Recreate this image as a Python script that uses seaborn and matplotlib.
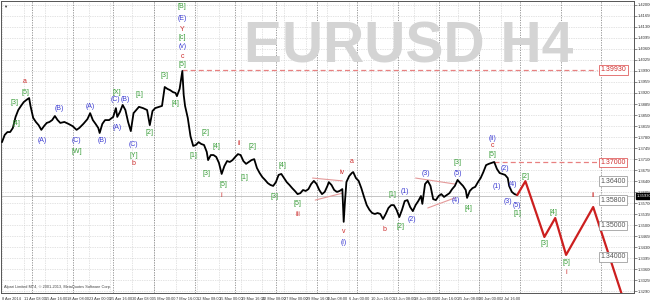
import matplotlib
matplotlib.use("Agg")
import matplotlib.pyplot as plt
import matplotlib.transforms as mtransforms
import seaborn as sns
import pandas as pd

# ---------------- data ----------------
bar_idx = [0, 2, 4, 6, 8, 10, 12, 14, 16, 18, 20, 21, 23, 25, 27, 29, 31, 33, 35, 37,
           39, 41, 43, 46, 49, 52, 55, 57, 60, 63, 65, 67, 69, 71, 72, 74, 76, 79, 82, 84,
           85, 87, 89, 91, 93, 95, 97, 99, 101, 104, 107, 109, 111, 113, 116, 118, 120, 122, 124, 126,
           128, 129, 131, 133, 134, 135, 137, 139, 141, 143, 145, 147, 149, 151, 152, 154, 156, 158, 160, 162,
           164, 166, 168, 170, 172, 174, 176, 178, 180, 182, 184, 186, 188, 190, 192, 194, 196, 198, 200, 202,
           204, 206, 208, 210, 212, 214, 216, 218, 220, 222, 224, 226, 228, 230, 232, 234, 236, 238, 240, 241,
           243, 245, 247, 249, 251, 252, 253, 254, 256, 258, 259, 261, 263, 265, 267, 269, 271, 273, 275, 277,
           279, 281, 283, 285, 287, 289, 291, 293, 295, 297, 299, 301, 303, 305, 307, 309, 310, 312, 314, 316,
           318, 320, 322, 324, 326, 328, 330, 332, 334, 336, 338, 340, 342, 343, 345, 347, 349, 351, 353, 355,
           357, 359, 361, 363, 365, 367, 369, 371, 373, 374, 376, 378, 380]
close = [1.3764, 1.3787, 1.3796, 1.3796, 1.3809, 1.3844, 1.3866, 1.3879, 1.3891, 1.3898, 1.3904, 1.3879, 1.3841, 1.3828, 1.3818, 1.3803, 1.3815, 1.3825, 1.3828, 1.3834,
         1.3847, 1.3834, 1.3825, 1.3828, 1.3822, 1.3815, 1.3803, 1.3809, 1.3822, 1.3837, 1.3856, 1.3834, 1.3822, 1.3809, 1.3793, 1.3822, 1.3834, 1.3834, 1.3844, 1.3872,
         1.3844, 1.3860, 1.3882, 1.3866, 1.3828, 1.3799, 1.3856, 1.3866, 1.3876, 1.3872, 1.3866, 1.3818, 1.3863, 1.3872, 1.3876, 1.3879, 1.3939, 1.3933, 1.3929, 1.3923,
         1.3920, 1.3910, 1.3933, 1.3990, 1.3914, 1.3879, 1.3841, 1.3783, 1.3752, 1.3755, 1.3764, 1.3758, 1.3755, 1.3733, 1.3707, 1.3723, 1.3723, 1.3717, 1.3698, 1.3663,
         1.3688, 1.3704, 1.3701, 1.3707, 1.3717, 1.3726, 1.3723, 1.3704, 1.3695, 1.3701, 1.3707, 1.3710, 1.3682, 1.3666, 1.3653, 1.3644, 1.3634, 1.3628, 1.3625, 1.3637,
         1.3660, 1.3663, 1.3650, 1.3637, 1.3628, 1.3618, 1.3609, 1.3599, 1.3602, 1.3612, 1.3609, 1.3615, 1.3631, 1.3641, 1.3631, 1.3612, 1.3599, 1.3606, 1.3625, 1.3637,
         1.3628, 1.3612, 1.3606, 1.3609, 1.3615, 1.3511, 1.3580, 1.3637, 1.3656, 1.3666, 1.3669, 1.3650, 1.3641, 1.3618, 1.3590, 1.3564, 1.3549, 1.3539, 1.3536, 1.3539,
         1.3536, 1.3520, 1.3536, 1.3555, 1.3564, 1.3564, 1.3549, 1.3526, 1.3549, 1.3577, 1.3580, 1.3558, 1.3545, 1.3564, 1.3577, 1.3593, 1.3568, 1.3631, 1.3641, 1.3625,
         1.3583, 1.3580, 1.3593, 1.3599, 1.3590, 1.3596, 1.3602, 1.3615, 1.3625, 1.3644, 1.3634, 1.3625, 1.3612, 1.3587, 1.3609, 1.3618, 1.3622, 1.3637, 1.3650, 1.3669,
         1.3691, 1.3695, 1.3698, 1.3701, 1.3679, 1.3666, 1.3663, 1.3660, 1.3650, 1.3625, 1.3606, 1.3599, 1.3596]

proj_idx = [380, 386, 400, 408, 416, 436, 457]
proj_price = [1.3596, 1.3640, 1.3463, 1.3523, 1.3406, 1.3558, 1.3282]

date_ticks = [0, 16, 32, 48, 64, 80, 96, 112, 128, 144, 160, 176, 192, 208, 224, 240,
              256, 272, 288, 304, 320, 336, 352, 368]
date_labels = ["8 Apr 2014", "11 Apr 08:00", "15 Apr 16:00", "18 Apr 08:00", "23 Apr 00:00",
               "25 Apr 16:00", "30 Apr 08:00", "5 May 00:00", "7 May 16:00", "12 May 08:00",
               "15 May 00:00", "19 May 16:00", "22 May 08:00", "27 May 00:00", "29 May 16:00",
               "3 Jun 08:00", "6 Jun 00:00", "10 Jun 16:00", "13 Jun 08:00", "18 Jun 00:00",
               "20 Jun 16:00", "25 Jun 08:00", "30 Jun 00:00", "2 Jul 16:00"]
week_sep = [22, 52, 82, 112, 142, 172, 202, 232, 262, 292, 322, 352, 382, 412, 442]
price_ticks = [1.3290 + 0.0035 * k for k in range(27)]

current_price = 1.3593
red_levels = [1.3993, 1.3700]
red_level_start = [133, 363]
gray_levels = [1.3640, 1.3580, 1.3500, 1.3400]

tri1_top = ([229, 251], [1.3650, 1.3641])
tri1_bot = ([231, 251], [1.3580, 1.3602])
tri2_top = ([305, 334], [1.3650, 1.3631])
tri2_bot = ([314, 334], [1.3555, 1.3587])

GREEN, BLUE, RED = "#3a9e3a", "#3c3cd2", "#cc2a2a"
wave_text = ["a", "[5]", "[3]", "[4]", "(A)", "(B)", "(C)", "[W]", "(A)", "(B)", "[X]", "(C)", "(B)", "(A)",
             "(C)", "[Y]", "b", "[1]", "[2]", "[3]", "[4]",
             "[B]", "(E)", "Y", "[c]", "(v)", "c", "[5]",
             "[2]", "[1]", "[3]", "[4]", "ii", "[5]", "i", "[1]", "[2]", "[3]", "[4]", "[5]", "iii",
             "iv", "a", "v", "(i)", "b", "[1]", "[2]", "(1)", "(2)", "(3)", "[3]", "(5)", "(4)", "[4]",
             "[5]", "c", "(ii)", "(1)", "(2)", "(4)", "(3)", "(5)", "[1]",
             "[2]", "[3]", "[4]", "[5]", "i", "ii"]
wave_color = ["r", "g", "g", "g", "b", "b", "b", "g", "b", "b", "g", "b", "b", "b",
              "b", "g", "r", "g", "g", "g", "g",
              "g", "b", "r", "g", "b", "r", "g",
              "g", "g", "g", "g", "r", "g", "r", "g", "g", "g", "g", "g", "r",
              "r", "r", "r", "b", "r", "g", "g", "b", "b", "b", "g", "b", "b", "g",
              "g", "r", "b", "b", "b", "b", "b", "b", "g",
              "g", "g", "g", "g", "r", "r"]
wave_idx = [17, 17, 9, 11, 30, 42, 55, 55, 65, 74, 85, 84, 91, 85,
            97, 97, 97, 101, 109, 120, 128,
            133, 133, 133, 133, 133, 133, 133,
            150, 141, 151, 158, 175, 163, 162, 179, 185, 201, 207, 218, 218,
            251, 258, 252, 252, 282, 288, 294, 297, 302, 313, 336, 336, 335, 344,
            362, 362, 362, 365, 371, 377, 373, 380, 380,
            386, 400, 407, 416, 416, 436]
wave_price = [1.3958, 1.3923, 1.3891, 1.3822, 1.3768, 1.3872, 1.3768, 1.3733, 1.3876, 1.3768, 1.3923, 1.3898, 1.3898, 1.3812,
              1.3758, 1.3723, 1.3695, 1.3914, 1.3796, 1.3974, 1.3888,
              1.4193, 1.4155, 1.4123, 1.4095, 1.4066, 1.4037, 1.4009,
              1.3793, 1.3720, 1.3666, 1.3749, 1.3761, 1.3631, 1.3596, 1.3653, 1.3749, 1.3590, 1.3691, 1.3568, 1.3533,
              1.3669, 1.3701, 1.3479, 1.3444, 1.3488, 1.3599, 1.3495, 1.3606, 1.3517, 1.3666, 1.3698, 1.3666, 1.3580, 1.3552,
              1.3726, 1.3752, 1.3774, 1.3622, 1.3679, 1.3631, 1.3577, 1.3564, 1.3536,
              1.3656, 1.3441, 1.3542, 1.3383, 1.3349, 1.3596]

# ---------------- plot ----------------
sns.set_style("white")
plt.rcParams["font.family"] = ["Liberation Sans", "DejaVu Sans"]

fig = plt.figure(figsize=(6.5, 3), dpi=100)
ax = fig.add_axes([1 / 650, 7 / 300, 633 / 650, 292 / 300])
ax.set_xlim(-0.74, 466.1)
ax.set_ylim(1.32851, 1.42120)

# grid
for t in date_ticks:
    ax.axvline(t, color="#c8c8c8", ls=(0, (1, 1.5)), lw=0.5, zorder=0)
for p in price_ticks:
    ax.axhline(p, color="#c8c8c8", ls=(0, (1, 1.5)), lw=0.5, zorder=0)
for w in week_sep:
    ax.axvline(w, color="#8a8a8a", ls=(0, (1.5, 1.5)), lw=0.6, zorder=0)

# watermark
ax.text(0.6445, 0.791, "EURUSD H4", transform=ax.transAxes, ha="center", va="baseline",
        fontsize=41, fontweight="bold", color="#d4d4d4", zorder=0)

# current price line
ax.axhline(current_price, color="#c4c4c4", lw=0.7, zorder=1)

# price series
df = pd.DataFrame({"bar": bar_idx, "price": close})
sns.lineplot(data=df, x="bar", y="price", ax=ax, color="black", lw=1.3, zorder=3)

# projection
dp = pd.DataFrame({"bar": proj_idx, "price": proj_price})
sns.lineplot(data=dp, x="bar", y="price", ax=ax, color="#cc1f1f", lw=1.6, zorder=3)

# triangles
for tx, ty in (tri1_top, tri1_bot, tri2_top, tri2_bot):
    ax.plot(tx, ty, color="#e49a9a", lw=0.8, zorder=2)

# horizontal levels
for lvl, st in zip(red_levels, red_level_start):
    ax.plot([st, 439], [lvl, lvl], color="#e88080", ls=(0, (4, 2.5)), lw=0.9, zorder=2)
    ax.text(441.5, lvl, f"{lvl:.5f}", ha="left", va="center", fontsize=5, color="#d03030",
            bbox=dict(boxstyle="square,pad=0.18", fc="white", ec="#e06060", lw=0.6), zorder=5)
for lvl in gray_levels:
    ax.text(441.5, lvl, f"{lvl:.5f}", ha="left", va="center", fontsize=5, color="#555555",
            bbox=dict(boxstyle="square,pad=0.18", fc="white", ec="#a0a0a0", lw=0.6), zorder=5)

# wave labels
cmap = {"g": GREEN, "b": BLUE, "r": RED}
for t, c, xi, yi in zip(wave_text, wave_color, wave_idx, wave_price):
    ax.text(xi, yi, t, color=cmap[c], fontsize=5, ha="center", va="center", zorder=4)

# axes styling
for s in ax.spines.values():
    s.set_color("#555555")
    s.set_linewidth(0.7)
ax.yaxis.tick_right()
ax.set_yticks(price_ticks)
ax.set_yticklabels([f"{p:.5f}" for p in price_ticks])
ax.set_xticks(date_ticks)
ax.set_xticklabels(date_labels, ha="left")
ax.tick_params(axis="y", labelsize=3.0, length=2, width=0.4, pad=0.8, colors="#333333")
ax.tick_params(axis="x", labelsize=2.8, length=2, width=0.4, pad=0.6, colors="#333333")
ax.set_xlabel("")
ax.set_ylabel("")

# current price marker on axis
trans = mtransforms.blended_transform_factory(ax.transAxes, ax.transData)
ax.text(1.004, current_price, f"{current_price:.5f}", transform=trans, ha="left", va="center",
        fontsize=3.0, color="white", clip_on=False,
        bbox=dict(boxstyle="square,pad=0.2", fc="black", ec="black"), zorder=6)

ax.text(0.004, 0.987, "\u25BC", transform=ax.transAxes, fontsize=3, color="#333333",
        ha="left", va="top")
ax.text(0.004, 0.012, "Alpari Limited MT4, \u00A9 2001-2013, MetaQuotes Software Corp.",
        transform=ax.transAxes, fontsize=2.8, color="#444444", ha="left", va="bottom")

fig.savefig("out.png", dpi=100)
